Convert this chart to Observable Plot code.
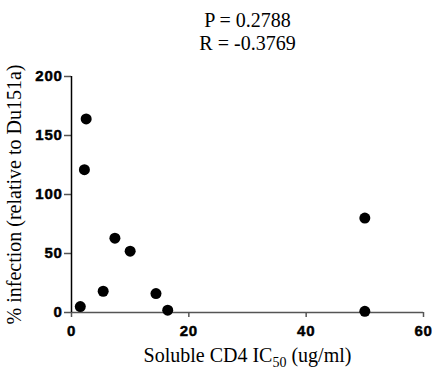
<!DOCTYPE html>
<html>
<head>
<meta charset="utf-8">
<script src="https://cdn.jsdelivr.net/npm/d3@7"></script>
<script src="https://cdn.jsdelivr.net/npm/@observablehq/plot@0.6"></script>
<style>
  html, body { margin: 0; padding: 0; background: white; }
  svg g[aria-label$="tick label"] text,
  svg g[aria-label$="tick label"] {
    font-family: "Liberation Sans", Arial, Helvetica, sans-serif !important;
    font-size: 15px !important;
    font-weight: bold !important;
    letter-spacing: 0.7px;
    fill: black !important;
    stroke: black;
    stroke-width: 0.45px;
  }
</style>
</head>
<body>
<div id="chart"></div>
<script>
// Data
const ic50 = [1.5, 2.5, 2.2, 5.4, 7.4, 10.0, 14.4, 16.4, 50, 50];
const infection = [5, 164, 121, 18, 63, 52, 16, 2, 80, 1];
const xTicks = [0, 20, 40, 60];
const yTicks = [0, 50, 100, 150, 200];
const titleLines = ["P = 0.2788", "R = -0.3769"];
const yLabel = "% infection (relative to Du151a)";
const xLabelParts = ["Soluble CD4 IC", "50", " (ug/ml)"];

const points = ic50.map((x, i) => ({x, y: infection[i]}));
const serif = "Liberation Serif, Times New Roman, serif";
const sans = "Liberation Sans, Arial, Helvetica, sans-serif";
const xLabelText = xLabelParts.join("");

const chart = Plot.plot({
  width: 436,
  height: 373,
  marginLeft: 71,
  marginRight: 13,
  marginTop: 76,
  marginBottom: 61,
  style: {background: "white", fontFamily: sans, fontSize: "15px", color: "black"},
  x: {domain: [0, 60]},
  y: {domain: [0, 200]},
  marks: [
    Plot.axisX({ticks: xTicks, tickSize: 5, tickPadding: 8, label: null, stroke: "#555", strokeWidth: 1.5}),
    Plot.axisY({ticks: yTicks, tickSize: 7, tickPadding: 2, label: null, stroke: "#555", strokeWidth: 1.5}),
    Plot.ruleY([0], {stroke: "#555", strokeWidth: 1.5}),
    Plot.ruleX([0], {stroke: "black", strokeWidth: 1.5}),
    Plot.dot(points, {x: "x", y: "y", r: 5.5, fill: "black", stroke: null}),
    Plot.text([titleLines[0]], {text: d => d, frameAnchor: "top", lineAnchor: "middle", dy: -56.4, fontFamily: serif, fontSize: 20, fill: "black"}),
    Plot.text([titleLines[1]], {text: d => d, frameAnchor: "top", lineAnchor: "middle", dy: -33.4, fontFamily: serif, fontSize: 20, fill: "black"}),
    Plot.text([yLabel], {text: d => d, frameAnchor: "left", textAnchor: "middle", lineAnchor: "middle", rotate: -90, dx: -57, fontFamily: serif, fontSize: 20, fill: "black"}),
    Plot.text([xLabelText], {text: d => d, frameAnchor: "bottom", lineAnchor: "middle", dy: 43, fontFamily: serif, fontSize: 20, fill: "black"})
  ]
});

// Put the "50" of IC50 in a subscript
const xl = Array.from(chart.querySelectorAll("text")).find(t => t.textContent === xLabelText);
if (xl) {
  xl.textContent = "";
  const ns = "http://www.w3.org/2000/svg";
  const t1 = document.createElementNS(ns, "tspan");
  t1.textContent = xLabelParts[0];
  const t2 = document.createElementNS(ns, "tspan");
  t2.textContent = xLabelParts[1];
  t2.setAttribute("font-size", "14");
  t2.setAttribute("dy", "5");
  const t3 = document.createElementNS(ns, "tspan");
  t3.textContent = xLabelParts[2];
  t3.setAttribute("dy", "-5");
  xl.append(t1, t2, t3);
}

document.getElementById("chart").appendChild(chart);
</script>
</body>
</html>
